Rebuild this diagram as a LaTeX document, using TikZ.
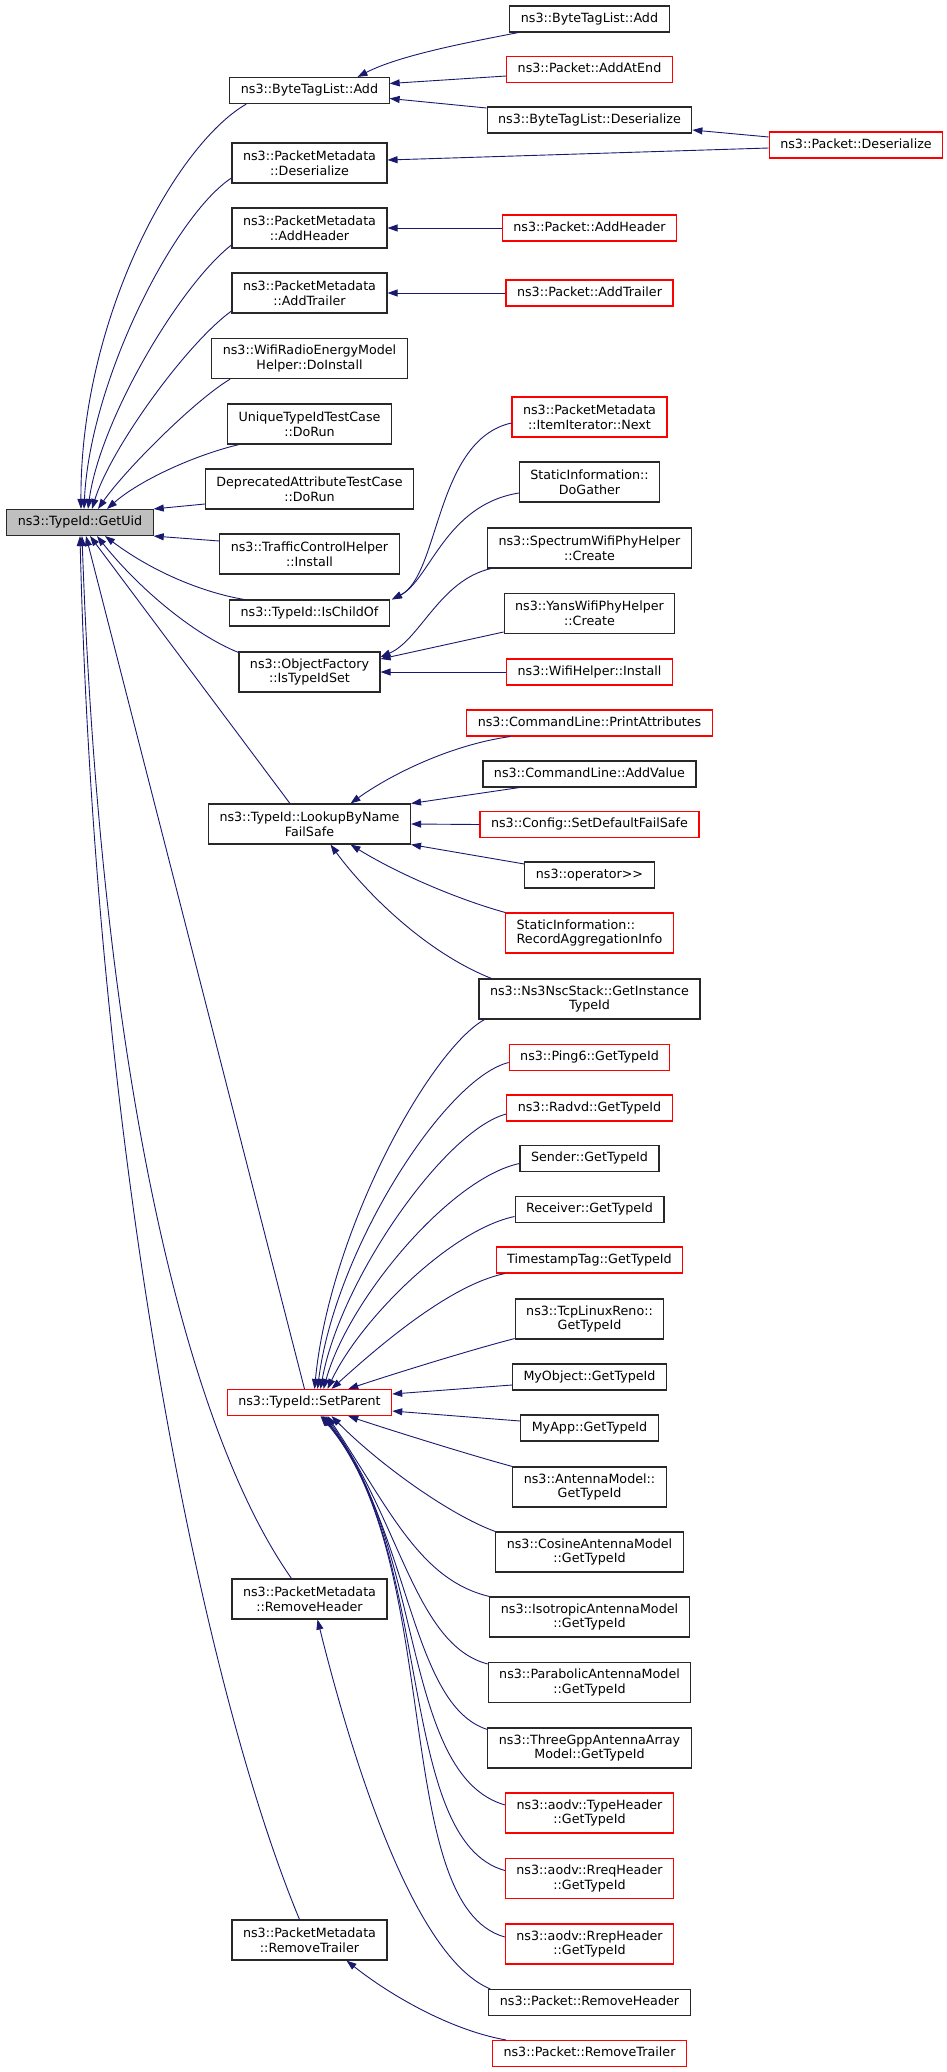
\documentclass[tikz,border=0pt]{standalone}
\usepackage{fontspec}
\setmainfont{DejaVu Sans}
\usetikzlibrary{arrows.meta,calc}
\definecolor{edgeblue}{RGB}{25,25,112}
\definecolor{boxred}{RGB}{255,0,0}
\definecolor{boxgray}{RGB}{191,191,191}
\definecolor{boxline}{RGB}{40,40,40}
\tikzset{
  nb/.style={draw=boxline, line width=1.1pt, fill=white, inner xsep=11pt, inner ysep=0pt,
    font=\fontsize{12.7pt}{14.7pt}\selectfont, align=center},
  one/.style={nb, minimum height=26pt, text height=9.6pt, text depth=2.9pt},
  two/.style={nb, minimum height=40pt},
  rd/.style={draw=boxred},
  arr/.style={draw=edgeblue, line width=0.9pt, arrows={Triangle[length=10pt,width=7pt]-}},
}
\begin{document}
\begin{tikzpicture}[x=1pt,y=-1pt]
\useasboundingbox (0,0) rectangle (947,2072);
% root
\node[one, fill=boxgray] (uid) at (80,522.5) {ns3::TypeId::GetUid};
% column 1
\node[one] (btl) at (309.5,90.5) {ns3::ByteTagList::Add};
\node[two] (pmd) at (309.5,163) {ns3::PacketMetadata\\::Deserialize};
\node[two] (pah) at (309.5,228) {ns3::PacketMetadata\\::AddHeader};
\node[two] (pat) at (309.5,293) {ns3::PacketMetadata\\::AddTrailer};
\node[two] (wre) at (309.5,358.5) {ns3::WifiRadioEnergyModel\\Helper::DoInstall};
\node[two] (utc) at (309.5,424) {UniqueTypeIdTestCase\\::DoRun};
\node[two] (dat) at (309.5,489) {DeprecatedAttributeTestCase\\::DoRun};
\node[two] (tch) at (309.5,554) {ns3::TrafficControlHelper\\::Install};
\node[one] (ico) at (309.5,613) {ns3::TypeId::IsChildOf};
\node[two] (ots) at (309.5,672) {ns3::ObjectFactory\\::IsTypeIdSet};
\node[two] (lbn) at (309.5,824) {ns3::TypeId::LookupByName\\FailSafe};
\node[one, rd] (sp) at (309.5,1402.5) {ns3::TypeId::SetParent};
\node[two] (prh) at (309.5,1599) {ns3::PacketMetadata\\::RemoveHeader};
\node[two] (prt) at (309.5,1940) {ns3::PacketMetadata\\::RemoveTrailer};
% column 2
\node[one] (btl2) at (589.5,19) {ns3::ByteTagList::Add};
\node[one, rd] (aae) at (589.5,69.5) {ns3::Packet::AddAtEnd};
\node[one] (btd) at (589.5,120) {ns3::ByteTagList::Deserialize};
\node[one, rd] (pah2) at (589.5,228) {ns3::Packet::AddHeader};
\node[one, rd] (pat2) at (589.5,293) {ns3::Packet::AddTrailer};
\node[two, rd] (iin) at (589.5,417) {ns3::PacketMetadata\\::ItemIterator::Next};
\node[two] (dga) at (589.5,482) {StaticInformation::\\DoGather};
\node[two] (swp) at (589.5,548) {ns3::SpectrumWifiPhyHelper\\::Create};
\node[two] (ywp) at (589.5,613.5) {ns3::YansWifiPhyHelper\\::Create};
\node[one, rd] (whi) at (589.5,672) {ns3::WifiHelper::Install};
\node[one, rd] (pra) at (589.5,723) {ns3::CommandLine::PrintAttributes};
\node[one] (adv) at (589.5,774) {ns3::CommandLine::AddValue};
\node[one, rd] (sdf) at (589.5,824.5) {ns3::Config::SetDefaultFailSafe};
\node[one] (opr) at (589.5,875) {ns3::operator>\kern0pt>};
\node[two, rd, align=left] (rai) at (589.5,933) {StaticInformation::\\RecordAggregationInfo};
\node[two] (nsc) at (589.5,999) {ns3::Ns3NscStack::GetInstance\\TypeId};
\node[one, rd] (png) at (589.5,1057.5) {ns3::Ping6::GetTypeId};
\node[one, rd] (rad) at (589.5,1108) {ns3::Radvd::GetTypeId};
\node[one] (snd) at (589.5,1158.5) {Sender::GetTypeId};
\node[one] (rcv) at (589.5,1209.5) {Receiver::GetTypeId};
\node[one, rd] (tst) at (589.5,1260) {TimestampTag::GetTypeId};
\node[two] (tcp) at (589.5,1319) {ns3::TcpLinuxReno::\\GetTypeId};
\node[one] (myo) at (589.5,1377) {MyObject::GetTypeId};
\node[one] (mya) at (589.5,1428) {MyApp::GetTypeId};
\node[two] (ant) at (589.5,1487) {ns3::AntennaModel::\\GetTypeId};
\node[two] (cos) at (589.5,1552) {ns3::CosineAntennaModel\\::GetTypeId};
\node[two] (iso) at (589.5,1617) {ns3::IsotropicAntennaModel\\::GetTypeId};
\node[two] (par) at (589.5,1682.5) {ns3::ParabolicAntennaModel\\::GetTypeId};
\node[two] (tgp) at (589.5,1748) {ns3::ThreeGppAntennaArray\\Model::GetTypeId};
\node[two, rd] (ath) at (589.5,1813) {ns3::aodv::TypeHeader\\::GetTypeId};
\node[two, rd] (arq) at (589.5,1878.5) {ns3::aodv::RreqHeader\\::GetTypeId};
\node[two, rd] (arp) at (589.5,1944) {ns3::aodv::RrepHeader\\::GetTypeId};
\node[one] (pkrh) at (589.5,2002.5) {ns3::Packet::RemoveHeader};
\node[one, rd] (pkrt) at (589.5,2053.5) {ns3::Packet::RemoveTrailer};
% column 3
\node[one, rd] (pds) at (856,145) {ns3::Packet::Deserialize};

% edges into GetUid (top)
\draw[arr] ($(uid.north)+(1,0)$) .. controls (80,320) and (175,145) .. ($(btl.south west)+(17,0)$);
\draw[arr] ($(uid.north)+(4,0)$) .. controls (90,380) and (175,215) .. ($(pmd.west)+(0,15)$);
\draw[arr] ($(uid.north)+(8,0)$) .. controls (100,420) and (180,285) .. ($(pah.west)+(0,17)$);
\draw[arr] ($(uid.north)+(12,0)$) .. controls (110,450) and (185,345) .. ($(pat.west)+(0,18)$);
\draw[arr] ($(uid.north)+(18,0)$) .. controls (125,470) and (195,400) .. ($(wre.south west)+(19,0)$);
\draw[arr] ($(uid.north)+(27,0)$) .. controls (140,480) and (195,455) .. ($(utc.south west)+(12,0)$);
\draw[arr] (uid.north east) -- ($(dat.west)+(0,15)$);
\draw[arr] (uid.south east) -- ($(tch.west)+(0,-13)$);
% edges into GetUid (bottom)
\draw[arr] ($(uid.south)+(25,0)$) .. controls (150,570) and (200,592) .. ($(ico.north west)+(15,0)$);
\draw[arr] ($(uid.south)+(17,0)$) .. controls (140,590) and (195,635) .. ($(ots.north west)+(0,1)$);
\draw[arr] ($(uid.south)+(10,0)$) -- ($(lbn.north west)+(82,0)$);
\draw[arr] ($(uid.south)+(6,0)$) -- ($(sp.north)+(-5,0)$);
\draw[arr] ($(uid.south)+(2,0)$) .. controls (100,1050) and (180,1420) .. ($(prh.north)+(-18,0)$);
\draw[arr] ($(uid.south)+(0,0)$) .. controls (95,1150) and (200,1680) .. ($(prt.north)+(-10,0)$);

% column 1 <- column 2
\draw[arr] ($(btl.north)+(48,0)$) .. controls (400,55) and (470,42) .. ($(btl2.south west)+(9,0)$);
\draw[arr] ($(btl.east)+(0,-7)$) -- ($(aae.west)+(0,6.5)$);
\draw[arr] ($(btl.east)+(0,8)$) -- ($(btd.west)+(0,-12)$);
\draw[arr] ($(btd.east)+(0,10)$) -- ($(pds.west)+(0,-8)$);
\draw[arr] ($(pmd.east)+(0,-3)$) -- ($(pds.west)+(0,3)$);
\draw[arr] (pah.east) -- (pah2.west);
\draw[arr] (pat.east) -- (pat2.west);
\draw[arr] ($(ico.north east)+(2,0)$) .. controls (440,575) and (435,440) .. ($(iin.west)+(0,6)$);
\draw[arr] ($(ico.north east)+(2,0)$) .. controls (430,580) and (445,505) .. ($(dga.west)+(0,11)$);
\draw[arr] ($(ots.east)+(0,-15)$) .. controls (420,640) and (440,580) .. ($(swp.south west)+(4,0)$);
\draw[arr] ($(ots.east)+(0,-13)$) -- ($(ywp.west)+(0,18.5)$);
\draw[arr] (ots.east) -- (whi.west);
\draw[arr] ($(lbn.north)+(41,0)$) .. controls (390,775) and (450,745) .. ($(pra.south west)+(44,0)$);
\draw[arr] (lbn.north east) -- ($(adv.south west)+(37,0)$);
\draw[arr] (lbn.east) -- (sdf.west);
\draw[arr] (lbn.south east) -- ($(opr.west)+(0,-11)$);
\draw[arr] ($(lbn.south)+(41,0)$) .. controls (400,875) and (460,900) .. (rai.north west);
\draw[arr] ($(lbn.south)+(21,0)$) .. controls (360,885) and (420,950) .. ($(nsc.north west)+(13,0)$);

% SetParent callers
\draw[arr] ($(sp.north)+(5,0)$) .. controls (330,1230) and (430,1050) .. ($(nsc.south west)+(6,0)$);
\draw[arr] ($(sp.north)+(8,0)$) .. controls (335,1250) and (445,1078) .. ($(png.west)+(0,5)$);
\draw[arr] ($(sp.north)+(11,0)$) .. controls (340,1280) and (445,1130) .. ($(rad.west)+(0,6)$);
\draw[arr] ($(sp.north)+(14,0)$) .. controls (348,1300) and (450,1178) .. ($(snd.west)+(0,5)$);
\draw[arr] ($(sp.north)+(18,0)$) .. controls (360,1320) and (450,1230) .. ($(rcv.west)+(0,7)$);
\draw[arr] ($(sp.north)+(22,0)$) .. controls (380,1345) and (450,1285) .. ($(tst.south west)+(9,0)$);
\draw[arr] ($(sp.north east)+(-44,0)$) .. controls (390,1375) and (470,1350) .. ($(tcp.south west)+(0,-1)$);
\draw[arr] ($(sp.east)+(0,-8.5)$) -- ($(myo.west)+(0,8)$);
\draw[arr] ($(sp.east)+(0,8.5)$) -- ($(mya.west)+(0,-7)$);
\draw[arr] ($(sp.south east)+(-44,0)$) .. controls (390,1430) and (470,1455) .. (ant.north west);
\draw[arr] ($(sp.south)+(22,0)$) .. controls (380,1465) and (450,1515) .. (cos.north west);
\draw[arr] ($(sp.south)+(18,0)$) .. controls (390,1510) and (420,1580) .. (iso.north west);
\draw[arr] ($(sp.south)+(16,0)$) .. controls (400,1520) and (415,1645) .. ($(par.north west)+(0,2)$);
\draw[arr] ($(sp.south)+(14,0)$) .. controls (410,1530) and (410,1705) .. ($(tgp.north west)+(0,2)$);
\draw[arr] ($(sp.south)+(13,0)$) .. controls (425,1540) and (400,1775) .. ($(ath.west)+(0,-8)$);
\draw[arr] ($(sp.south)+(12,0)$) .. controls (435,1550) and (395,1840) .. ($(arq.west)+(0,-8)$);
\draw[arr] ($(sp.south)+(11,0)$) .. controls (445,1560) and (390,1905) .. ($(arp.west)+(0,-7)$);

% RemoveHeader / RemoveTrailer callers
\draw[arr] ($(prh.south)+(8,0)$) .. controls (360,1790) and (420,1960) .. ($(pkrh.north west)+(2,0)$);
\draw[arr] ($(prt.south)+(37,0)$) .. controls (390,1995) and (450,2030) .. ($(pkrt.north west)+(14,0)$);
\end{tikzpicture}
\end{document}
